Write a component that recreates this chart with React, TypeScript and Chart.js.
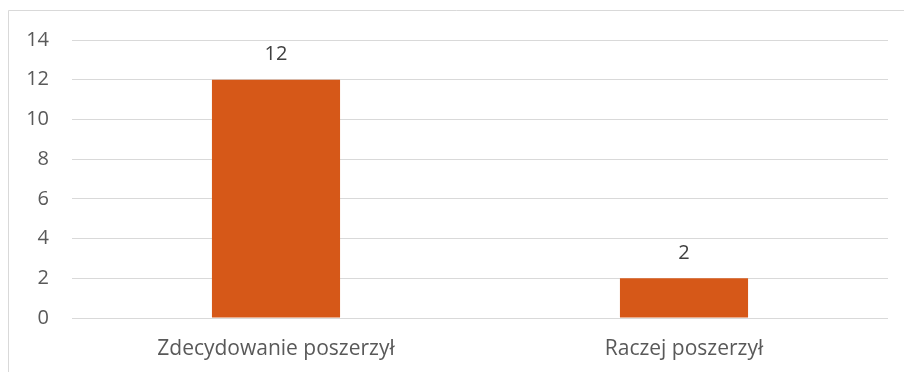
import React, { useEffect, useRef } from "react";
import { Chart, registerables } from "chart.js";

Chart.register(...registerables);

const categories = ["Zdecydowanie poszerzył", "Raczej poszerzył"];
const values = [12, 2];
const yTicks = [0, 2, 4, 6, 8, 10, 12, 14];

const FONT = "'Open Sans', 'Liberation Sans', sans-serif";

const framePlugin = {
  id: "frame",
  beforeDraw(chart: any) {
    const ctx = chart.ctx;
    ctx.save();
    ctx.fillStyle = "#ffffff";
    ctx.fillRect(0, 0, chart.width, chart.height);
    ctx.strokeStyle = "#d9d9d9";
    ctx.lineWidth = 1;
    ctx.beginPath();
    ctx.moveTo(8.5, chart.height);
    ctx.lineTo(8.5, 10.5);
    ctx.lineTo(chart.width, 10.5);
    ctx.stroke();
    ctx.restore();
  },
};

const labelPlugin = {
  id: "valueLabels",
  afterDatasetsDraw(chart: any) {
    const ctx = chart.ctx;
    const meta = chart.getDatasetMeta(0);
    ctx.save();
    ctx.fillStyle = "#404040";
    ctx.font = `20px ${FONT}`;
    ctx.textAlign = "center";
    ctx.textBaseline = "middle";
    meta.data.forEach((el: any, i: number) => {
      ctx.fillText(String(values[i]), el.x, el.y - 25);
    });
    ctx.restore();
  },
};

export default function App() {
  const ref = useRef<HTMLCanvasElement>(null);
  useEffect(() => {
    if (!ref.current) return;
    const chart = new Chart(ref.current, {
      type: "bar",
      data: {
        labels: categories,
        datasets: [
          {
            data: values,
            backgroundColor: "#d65818",
            barPercentage: 0.314,
            categoryPercentage: 1,
          },
        ],
      },
      options: {
        animation: false,
        responsive: false,
        maintainAspectRatio: false,
        layout: { padding: { left: 0, right: 16, top: 40, bottom: 0 } },
        plugins: { legend: { display: false }, tooltip: { enabled: false } },
        scales: {
          x: {
            grid: { display: false, drawTicks: false },
            border: { display: false },
            ticks: { color: "#595959", font: { family: FONT, size: 21 }, padding: 18 },
            afterFit(scale: any) {
              scale.height = 54;
            },
          },
          y: {
            min: 0,
            max: 14,
            afterBuildTicks(scale: any) {
              scale.ticks = yTicks.map((v) => ({ value: v }));
            },
            grid: { color: "#d9d9d9", lineWidth: 1, drawTicks: false },
            border: { display: false },
            ticks: { color: "#595959", font: { family: FONT, size: 20 }, padding: 23 },
            afterFit(scale: any) {
              scale.width = 72;
            },
          },
        },
      },
      plugins: [framePlugin, labelPlugin],
    });
    return () => chart.destroy();
  }, []);
  return (
    <div style={{ position: "fixed", left: 0, top: 0, width: 904, height: 372 }}>
      <canvas ref={ref} width={904} height={372} style={{ width: 904, height: 372 }} />
    </div>
  );
}
